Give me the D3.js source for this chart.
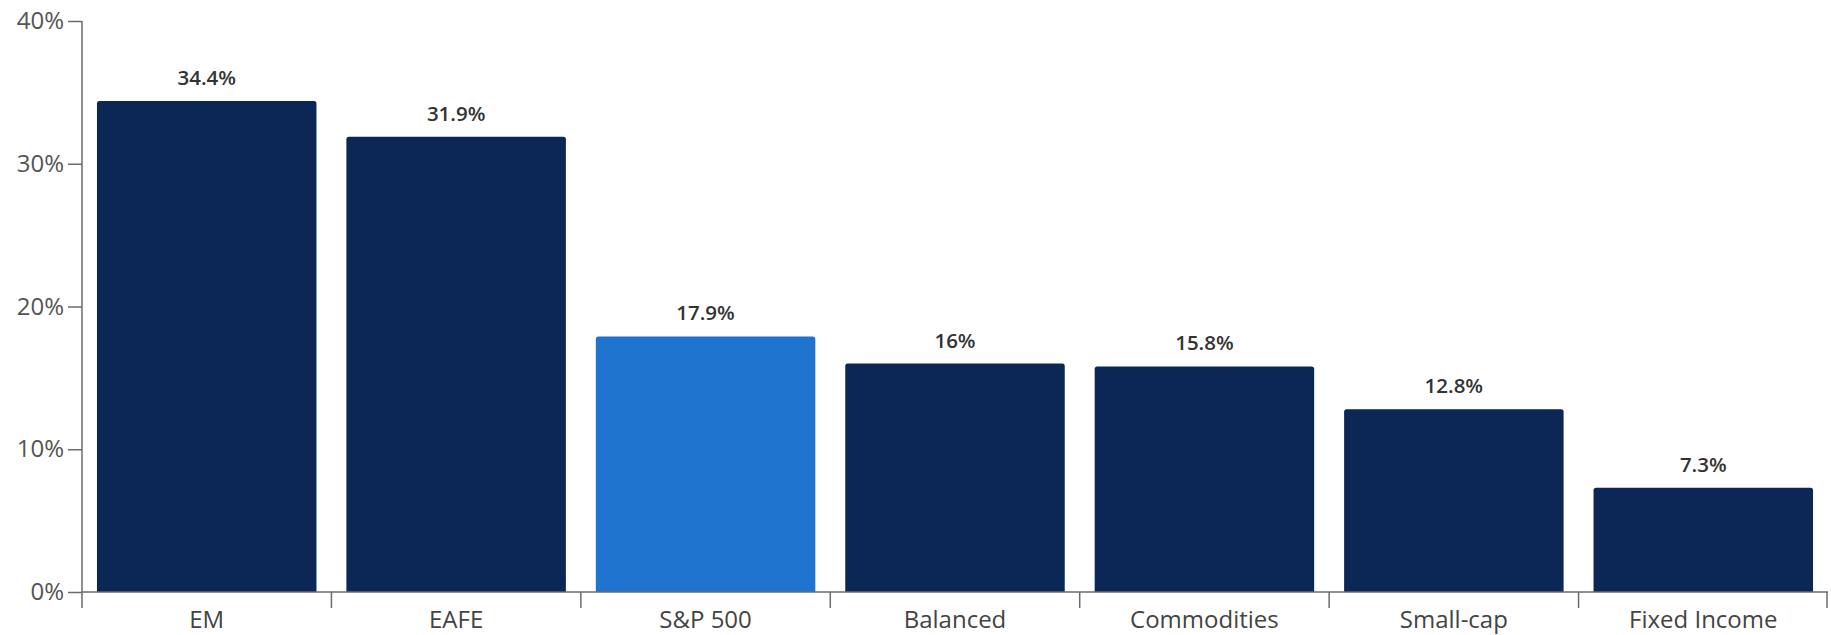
<!DOCTYPE html>
<html>
<head>
<meta charset="utf-8">
<script src="https://cdn.jsdelivr.net/npm/d3@7"></script>
<style>
  html, body { margin: 0; padding: 0; background: #ffffff; }
  svg { display: block; font-family: "Open Sans", "Noto Sans", sans-serif; }
</style>
</head>
<body>
<svg id="chart" width="1831" height="635"></svg>
<script>
// Asset-class returns (%)
const categories = ["EM", "EAFE", "S&P 500", "Balanced", "Commodities", "Small-cap", "Fixed Income"];
const values = [34.4, 31.9, 17.9, 16, 15.8, 12.8, 7.3];
const valueLabels = ["34.4%", "31.9%", "17.9%", "16%", "15.8%", "12.8%", "7.3%"];
const highlighted = ["S&P 500"];
const yTicks = [0, 10, 20, 30, 40];

const svg = d3.select("#chart");
const margin = { left: 82, right: 3, top: 21, bottom: 43 };
const W = 1831, H = 635;

const x = d3.scaleBand()
  .domain(categories)
  .range([margin.left, W - margin.right])
  .paddingInner(0.12)
  .paddingOuter(0.06);

const y = d3.scaleLinear()
  .domain([0, 40])
  .range([H - margin.bottom, margin.top]);

const navy = "#0a2756";
const blue = "#1f74cf";
const axisColor = "#6b6b6b";

// Bars with slightly rounded top corners
svg.append("g")
  .selectAll("path")
  .data(categories)
  .join("path")
  .attr("d", (c, i) => {
    const x0 = x(c), w = x.bandwidth();
    const y0 = y(values[i]), y1 = y(0), r = 2.5;
    return `M${x0},${y1}V${y0 + r}Q${x0},${y0} ${x0 + r},${y0}H${x0 + w - r}Q${x0 + w},${y0} ${x0 + w},${y0 + r}V${y1}Z`;
  })
  .attr("fill", c => highlighted.includes(c) ? blue : navy);

// Value labels above the bars
svg.append("g")
  .selectAll("text")
  .data(categories)
  .join("text")
  .attr("x", c => x(c) + x.bandwidth() / 2)
  .attr("y", (c, i) => y(values[i]) - 16)
  .attr("text-anchor", "middle")
  .attr("font-size", 20.5)
  .attr("font-weight", 600)
  .attr("fill", "#333333")
  .text((c, i) => valueLabels[i]);

// Y axis
const yAxis = svg.append("g")
  .attr("transform", `translate(${margin.left},0)`)
  .call(d3.axisLeft(y).tickValues(yTicks).tickFormat(d => d + "%").tickSize(14).tickPadding(4).tickSizeOuter(0));
yAxis.select(".domain").remove();
yAxis.append("line")
  .attr("x1", 0).attr("x2", 0)
  .attr("y1", y(40)).attr("y2", y(0) + 16)
  .attr("stroke", axisColor).attr("stroke-width", 1.5);
yAxis.selectAll(".tick line").attr("stroke", axisColor).attr("stroke-width", 1.5);
yAxis.selectAll(".tick text")
  .attr("font-size", 24)
  .attr("fill", "#555555")
  .attr("font-family", "'Open Sans', sans-serif");

// X axis: baseline with ticks at band boundaries
const xg = svg.append("g").attr("transform", `translate(0,${y(0)})`);
xg.append("line")
  .attr("x1", x.range()[0]).attr("x2", x.range()[1])
  .attr("y1", 0).attr("y2", 0)
  .attr("stroke", axisColor).attr("stroke-width", 1.5);
const bounds = categories.map(c => x(c) - x.step() * x.paddingInner() / 2).slice(1).concat([x.range()[1] - 1]);
xg.selectAll("line.tk")
  .data(bounds)
  .join("line")
  .attr("class", "tk")
  .attr("x1", d => d).attr("x2", d => d)
  .attr("y1", 0).attr("y2", 16)
  .attr("stroke", axisColor).attr("stroke-width", 1.5);
xg.selectAll("text")
  .data(categories)
  .join("text")
  .attr("x", c => x(c) + x.bandwidth() / 2)
  .attr("y", 36)
  .attr("text-anchor", "middle")
  .attr("font-size", 24)
  .attr("fill", "#444444")
  .text(c => c);
</script>
</body>
</html>
